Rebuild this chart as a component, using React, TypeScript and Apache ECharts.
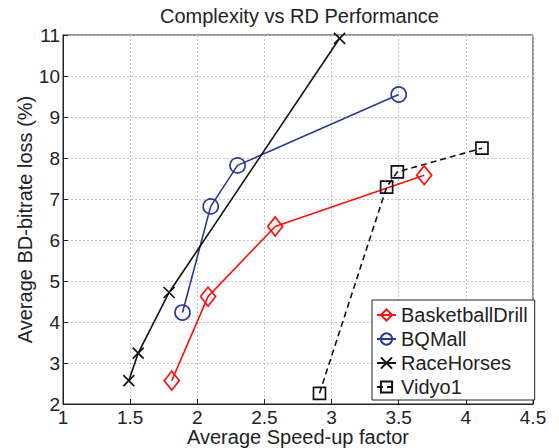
import { useEffect, useRef } from 'react';
import * as echarts from 'echarts';

const seriesNames = ['BasketballDrill', 'BQMall', 'RaceHorses', 'Vidyo1'];

const speedBasketball = [1.81, 2.08, 2.58, 3.69];
const lossBasketball = [2.57, 4.62, 6.33, 7.58];

const speedBQMall = [1.89, 2.1, 2.3, 3.5];
const lossBQMall = [4.23, 6.82, 7.82, 9.55];

const speedRaceHorses = [1.49, 1.56, 1.79, 3.06];
const lossRaceHorses = [2.57, 3.24, 4.72, 10.92];

const speedVidyo = [2.91, 3.41, 3.49, 4.12];
const lossVidyo = [2.26, 7.29, 7.66, 8.24];

const FONT = '"Liberation Sans", Arial, Helvetica, sans-serif';
const INK = '#222';

function pairs(xs: number[], ys: number[]) {
  return xs.map((x, i) => [x, ys[i]]);
}

export default function App() {
  const ref = useRef<HTMLDivElement>(null);
  useEffect(() => {
    document.body.style.margin = '0';
    if (!ref.current) return;
    const chart = echarts.init(ref.current, undefined, { renderer: 'svg' });
    const mk = (
      name: string,
      data: number[][],
      color: string,
      symbol: string,
      symbolSize: number | number[],
      dashed = false
    ) => ({
      name,
      type: 'line',
      data,
      symbol,
      symbolSize,
      showSymbol: true,
      color,
      lineStyle: { color, width: 1.6, type: dashed ? [6, 4] : 'solid' },
      itemStyle: { color: 'rgba(255,255,255,0)', borderColor: color, borderWidth: 1.7 },
      emphasis: { disabled: true },
      z: 3,
    });
    chart.setOption({
      animation: false,
      textStyle: { fontFamily: FONT },
      title: {
        text: 'Complexity vs RD Performance',
        left: 155,
        top: 1,
        textStyle: { fontFamily: FONT, fontSize: 20, fontWeight: 'normal', color: INK },
      },
      legend: {
        orient: 'vertical',
        left: 372,
        top: 300,
        padding: [5, 7, 3, 4],
        itemWidth: 19,
        itemHeight: 14,
        itemGap: 4,
        borderColor: INK,
        borderWidth: 1,
        backgroundColor: '#fff',
        data: seriesNames,
        textStyle: { fontFamily: FONT, fontSize: 20, color: INK },
        selectedMode: false,
      },
      grid: {
        left: 63,
        right: 26,
        top: 35,
        bottom: 44,
        containLabel: false,
        outerBoundsMode: 'none',
        show: true,
        borderColor: INK,
        borderWidth: 1,
        backgroundColor: 'transparent',
      },
      xAxis: {
        type: 'value',
        min: 1,
        max: 4.5,
        interval: 0.5,
        name: 'Average Speed-up factor',
        nameLocation: 'middle',
        nameMoveOverlap: false,
        nameGap: 23,
        nameTextStyle: { fontFamily: FONT, fontSize: 20, lineHeight: 20, color: INK },
        axisLine: { onZero: false, lineStyle: { color: INK, width: 1 } },
        axisTick: { inside: true, length: 5, lineStyle: { color: INK } },
        axisLabel: { margin: 4, fontFamily: FONT, fontSize: 19, lineHeight: 19, color: INK },
        splitLine: { show: true, lineStyle: { color: '#c4c4c4', type: [2, 2], width: 1 } },
      },
      yAxis: {
        type: 'value',
        min: 2,
        max: 11,
        interval: 1,
        name: 'Average BD-bitrate loss (%)',
        nameLocation: 'middle',
        nameMoveOverlap: false,
        nameGap: 28,
        nameTextStyle: { fontFamily: FONT, fontSize: 20, color: INK },
        axisLine: { onZero: false, lineStyle: { color: INK, width: 1 } },
        axisTick: { inside: true, length: 5, lineStyle: { color: INK } },
        axisLabel: { margin: 3, fontFamily: FONT, fontSize: 19, color: INK },
        splitLine: { show: true, lineStyle: { color: '#c4c4c4', type: [2, 2], width: 1 } },
      },
      series: [
        mk(seriesNames[0], pairs(speedBasketball, lossBasketball), '#ff1010', 'diamond', [15, 19]),
        mk(seriesNames[1], pairs(speedBQMall, lossBQMall), '#2a3898', 'circle', 15),
        mk(seriesNames[2], pairs(speedRaceHorses, lossRaceHorses), '#111', 'path://M0,0L10,10M10,0L0,10', 11),
        mk(seriesNames[3], pairs(speedVidyo, lossVidyo), '#111', 'rect', 12, true),
      ],
    });
    return () => chart.dispose();
  }, []);
  return (
    <div
      ref={ref}
      style={{ width: 559, height: 448, position: 'absolute', left: 0, top: 0, background: '#fff' }}
    />
  );
}
